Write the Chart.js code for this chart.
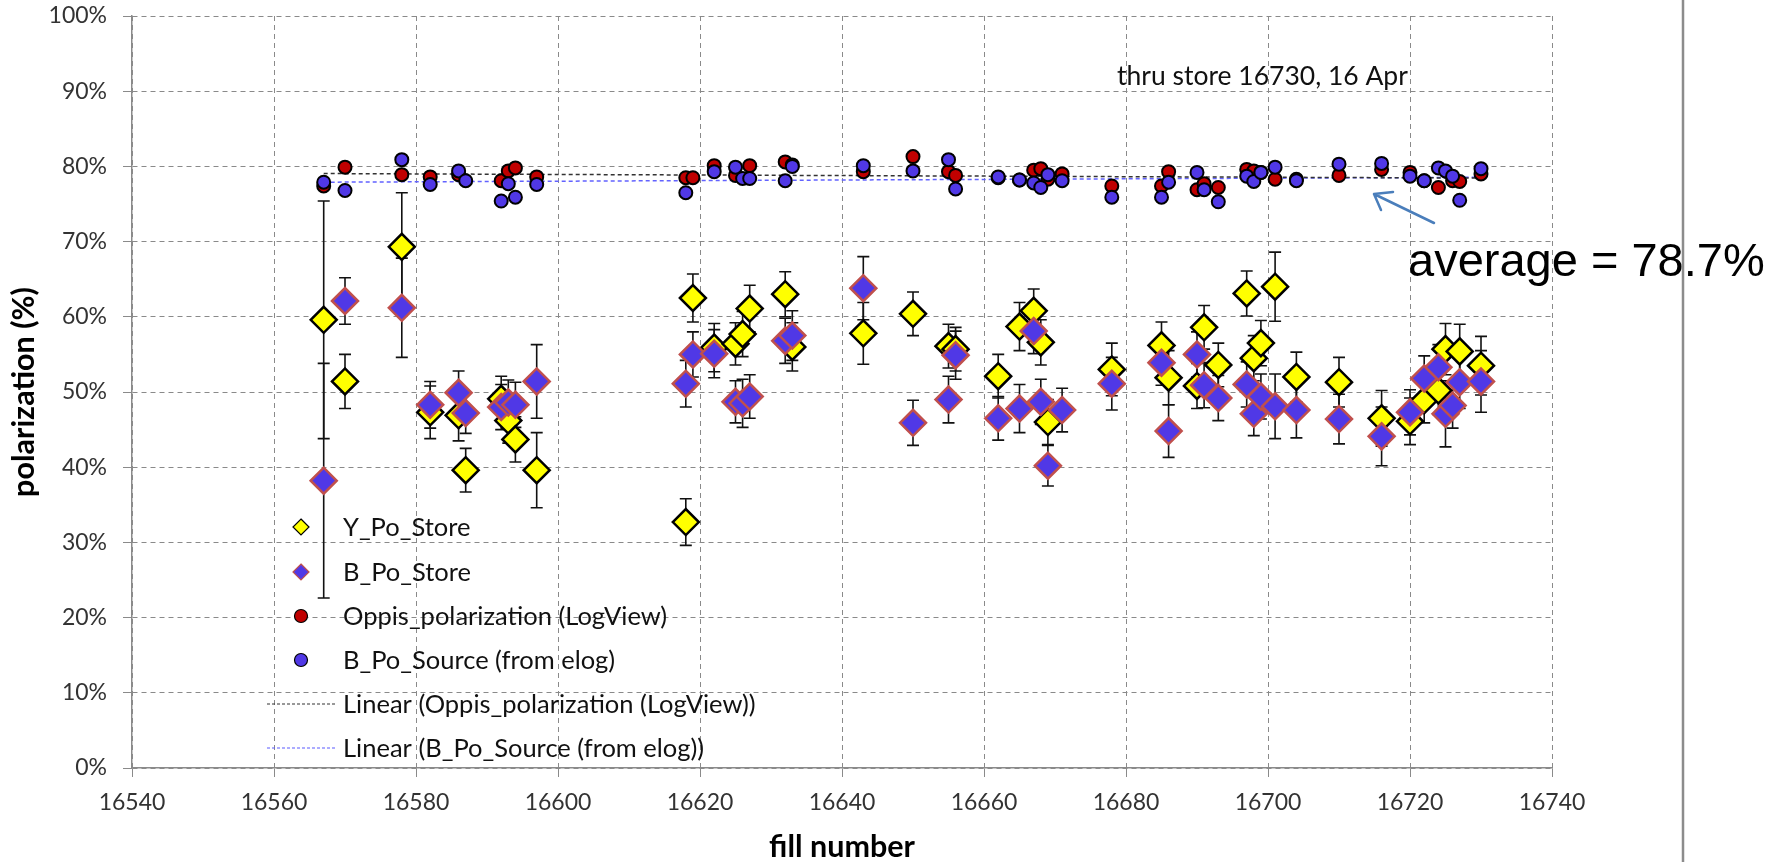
<!DOCTYPE html>
<html>
<head>
<meta charset="utf-8">
<script src="https://cdn.jsdelivr.net/npm/chart.js@4.4.1/dist/chart.umd.min.js"></script>
<style>
  html, body { margin: 0; padding: 0; background: #fff; }
  #wrap { position: relative; width: 1785px; height: 862px; }
</style>
</head>
<body>
<div id="wrap"><canvas id="polChart" width="1785" height="862"></canvas></div>
<script>
// Y_Po_Store (yellow diamonds) with error bars
const yFill = [16567, 16570, 16578, 16582, 16586, 16587, 16592, 16593, 16594, 16597,
  16618, 16619, 16622, 16625, 16626, 16627, 16632, 16633, 16643, 16650,
  16655, 16656, 16662, 16665, 16667, 16668, 16669, 16678, 16685, 16686,
  16690, 16691, 16693, 16697, 16698, 16699, 16701, 16704, 16710, 16716,
  16720, 16722, 16724, 16725, 16727, 16730];
const yPol = [59.6, 51.4, 69.3, 47.3, 46.9, 39.6, 49.1, 46.2, 43.7, 39.6,
  32.7, 62.5, 55.9, 56.4, 57.7, 61.1, 63.0, 56.0, 57.8, 60.4,
  56.1, 55.7, 52.1, 58.7, 60.8, 56.6, 46.0, 53.0, 56.2, 51.9,
  50.8, 58.6, 53.6, 63.1, 54.5, 56.5, 64.0, 52.0, 51.3, 46.5,
  46.1, 48.9, 50.2, 55.7, 55.4, 53.5];
const yErr = [15.8, 3.6, 7.2, 3.5, 3.4, 2.9, 3.0, 3.0, 3.0, 5.0,
  3.1, 3.2, 3.2, 2.8, 3.0, 3.1, 3.0, 3.2, 4.1, 2.9,
  2.9, 2.9, 2.9, 3.2, 2.9, 3.0, 3.0, 3.5, 3.1, 3.6,
  3.0, 2.9, 2.9, 3.0, 3.0, 3.0, 4.6, 3.3, 3.3, 3.7,
  3.1, 3.0, 3.2, 3.4, 3.6, 3.9];

// B_Po_Store (blue diamonds) with error bars
const bFill = [16567, 16570, 16578, 16582, 16586, 16587, 16592, 16593, 16594, 16597,
  16618, 16619, 16622, 16625, 16626, 16627, 16632, 16633, 16643, 16650,
  16655, 16656, 16662, 16665, 16667, 16668, 16669, 16671, 16678, 16685,
  16686, 16690, 16691, 16693, 16697, 16698, 16699, 16701, 16704, 16710,
  16716, 16720, 16722, 16724, 16725, 16726, 16727, 16730];
const bPol = [38.2, 62.1, 61.2, 48.3, 49.9, 47.2, 48.0, 48.6, 48.3, 51.4,
  51.1, 55.0, 55.1, 48.7, 48.5, 49.4, 56.8, 57.5, 63.8, 45.9,
  49.0, 54.9, 46.5, 47.8, 58.1, 48.7, 40.2, 47.6, 51.1, 53.9,
  44.8, 55.0, 50.9, 49.2, 51.0, 47.1, 49.4, 48.1, 47.6, 46.4,
  44.1, 47.3, 51.8, 53.3, 47.1, 48.2, 51.3, 51.4];
const bErr = [15.6, 3.1, 6.6, 3.1, 2.9, 2.7, 3.0, 3.0, 3.0, 4.9,
  3.1, 3.0, 3.2, 2.8, 3.2, 2.9, 3.0, 3.3, 4.2, 3.0,
  3.1, 3.2, 2.9, 3.2, 3.0, 3.0, 2.7, 2.9, 3.5, 3.0,
  3.5, 3.0, 3.0, 3.0, 3.0, 2.9, 3.0, 4.3, 3.7, 3.3,
  3.9, 3.0, 3.0, 3.0, 4.4, 3.0, 3.5, 4.1];

// Oppis_polarization (LogView), red circles
const oFill = [16567, 16570, 16578, 16582, 16586, 16592, 16593, 16594, 16597, 16618,
  16619, 16622, 16625, 16627, 16632, 16633, 16643, 16650, 16655, 16656,
  16662, 16665, 16667, 16668, 16669, 16671, 16678, 16685, 16686, 16690,
  16691, 16693, 16697, 16698, 16699, 16701, 16704, 16710, 16716, 16720,
  16722, 16724, 16726, 16727, 16730];
const oPol = [77.4, 79.9, 78.9, 78.6, 78.9, 78.1, 79.4, 79.8, 78.6, 78.5,
  78.5, 80.1, 78.8, 80.1, 80.6, 80.2, 79.3, 81.3, 79.3, 78.8,
  78.5, 78.2, 79.5, 79.7, 78.3, 79.0, 77.4, 77.4, 79.3, 76.9,
  77.7, 77.2, 79.6, 79.4, 79.2, 78.3, 78.3, 78.8, 79.6, 79.2,
  78.1, 77.2, 78.1, 78.0, 79.0];

// B_Po_Source (from elog), blue circles
const sFill = [16567, 16570, 16578, 16582, 16586, 16587, 16592, 16593, 16594, 16597,
  16618, 16622, 16625, 16626, 16627, 16632, 16633, 16643, 16650, 16655,
  16656, 16662, 16665, 16667, 16668, 16669, 16671, 16678, 16685, 16686,
  16690, 16691, 16693, 16697, 16698, 16699, 16701, 16704, 16710, 16716,
  16720, 16722, 16724, 16725, 16726, 16727, 16730];
const sPol = [77.9, 76.8, 80.9, 77.6, 79.4, 78.1, 75.4, 77.7, 75.9, 77.6,
  76.5, 79.3, 79.9, 78.4, 78.4, 78.1, 80.0, 80.1, 79.4, 80.9,
  77.0, 78.6, 78.2, 77.8, 77.2, 78.9, 78.1, 75.9, 75.9, 77.9,
  79.2, 76.9, 75.3, 78.7, 78.0, 79.2, 79.9, 78.1, 80.3, 80.4,
  78.7, 78.1, 79.8, 79.4, 78.7, 75.5, 79.7];

// linear trend lines, end points
const trendFill = [16567, 16730];
const oTrend = [79.05, 78.45];
const sTrend = [77.9, 78.55];

const xTicks = { min: 16540, max: 16740, step: 20 };
const yTicks = { min: 0, max: 100, step: 10 };

const legendItems = [
  "Y_Po_Store",
  "B_Po_Store",
  "Oppis_polarization (LogView)",
  "B_Po_Source (from elog)",
  "Linear (Oppis_polarization (LogView))",
  "Linear (B_Po_Source (from elog))"
];

const YELLOW = "#ffff00";
const BLUE = "#5038e6";
const RED = "#c00000";
const SALMON = "#c0504d";

function pts(xs, ys) {
  return xs.map((x, i) => ({ x: x, y: ys[i] }));
}

const errorBarPlugin = {
  id: "errorBars",
  beforeDatasetsDraw(chart) {
    const ctx = chart.ctx;
    const xs = chart.scales.x, ys = chart.scales.y;
    ctx.save();
    ctx.strokeStyle = "#111";
    ctx.lineWidth = 1.6;
    chart.data.datasets.forEach(ds => {
      if (!ds.errorBars) return;
      ds.data.forEach((p, i) => {
        const e = ds.errorBars[i];
        const px = xs.getPixelForValue(p.x);
        const top = ys.getPixelForValue(p.y + e);
        const bot = ys.getPixelForValue(p.y - e);
        ctx.beginPath();
        ctx.moveTo(px, top); ctx.lineTo(px, bot);
        ctx.moveTo(px - 6, top); ctx.lineTo(px + 6, top);
        ctx.moveTo(px - 6, bot); ctx.lineTo(px + 6, bot);
        ctx.stroke();
      });
    });
    ctx.restore();
  }
};

const overlayPlugin = {
  id: "overlay",
  afterDraw(chart) {
    const ctx = chart.ctx;
    ctx.save();

    // legend inside the plot
    const rows = [527, 572, 616, 660, 704, 748];
    const mx = 301, tx = 343;
    ctx.font = "25.5px Lato";
    ctx.fillStyle = "#111";
    ctx.textBaseline = "middle";
    legendItems.forEach((t, i) => ctx.fillText(t, tx, rows[i] + 1));

    const diamond = (y, fill, stroke) => {
      ctx.beginPath();
      ctx.moveTo(mx, y - 8); ctx.lineTo(mx + 8, y); ctx.lineTo(mx, y + 8); ctx.lineTo(mx - 8, y);
      ctx.closePath();
      ctx.fillStyle = fill; ctx.fill();
      ctx.strokeStyle = stroke; ctx.lineWidth = 1.2; ctx.stroke();
    };
    const circle = (y, fill) => {
      ctx.beginPath();
      ctx.arc(mx, y, 6.5, 0, Math.PI * 2);
      ctx.fillStyle = fill; ctx.fill();
      ctx.strokeStyle = "#000"; ctx.lineWidth = 1.2; ctx.stroke();
    };
    diamond(rows[0], YELLOW, "#000");
    diamond(rows[1], BLUE, SALMON);
    circle(rows[2], RED);
    circle(rows[3], BLUE);
    ctx.setLineDash([3, 2]);
    ctx.lineWidth = 1.2;
    ctx.strokeStyle = "#333";
    ctx.beginPath(); ctx.moveTo(267, rows[4]); ctx.lineTo(335, rows[4]); ctx.stroke();
    ctx.strokeStyle = "#5a5aff";
    ctx.beginPath(); ctx.moveTo(267, rows[5]); ctx.lineTo(335, rows[5]); ctx.stroke();
    ctx.setLineDash([]);

    // annotations
    ctx.fillStyle = "#111";
    ctx.textBaseline = "alphabetic";
    ctx.font = "26.5px Lato";
    ctx.fillText("thru store 16730, 16 Apr", 1117, 85);

    ctx.fillStyle = "#000";
    ctx.font = "47px 'Liberation Sans', Arial, sans-serif";
    ctx.fillText("average = 78.7%", 1408, 276);

    // arrow pointing at the trend lines
    ctx.strokeStyle = "#4a7ebb";
    ctx.lineWidth = 2.5;
    ctx.lineCap = "round";
    ctx.beginPath();
    ctx.moveTo(1434, 223); ctx.lineTo(1374, 194);
    ctx.moveTo(1374, 194); ctx.lineTo(1393, 192);
    ctx.moveTo(1374, 194); ctx.lineTo(1381, 210);
    ctx.stroke();

    // slide border on the right
    ctx.strokeStyle = "#8c8c8c";
    ctx.lineWidth = 2.5;
    ctx.beginPath(); ctx.moveTo(1683, 0); ctx.lineTo(1683, 862); ctx.stroke();

    ctx.restore();
  }
};

const tickFont = { family: "Lato", size: 23 };
const titleFont = { family: "Lato", size: 30.5, weight: "bold", lineHeight: 1 };

new Chart(document.getElementById("polChart").getContext("2d"), {
  type: "scatter",
  data: {
    datasets: [
      {
        label: "B_Po_Store",
        data: pts(bFill, bPol),
        errorBars: bErr,
        pointStyle: "rectRot",
        pointRadius: 13,
        backgroundColor: BLUE,
        borderColor: SALMON,
        borderWidth: 2.5,
        order: 1,
      },
      {
        label: "Y_Po_Store",
        data: pts(yFill, yPol),
        errorBars: yErr,
        pointStyle: "rectRot",
        pointRadius: 13,
        backgroundColor: YELLOW,
        borderColor: "#000",
        borderWidth: 2.5,
        order: 2,
      },
      {
        label: "B_Po_Source (from elog)",
        data: pts(sFill, sPol),
        pointStyle: "circle",
        pointRadius: 6.5,
        backgroundColor: BLUE,
        borderColor: "#000",
        borderWidth: 2,
        order: 3,
      },
      {
        label: "Oppis_polarization (LogView)",
        data: pts(oFill, oPol),
        pointStyle: "circle",
        pointRadius: 6.5,
        backgroundColor: RED,
        borderColor: "#000",
        borderWidth: 2,
        order: 4,
      },
      {
        label: "Linear (Oppis_polarization (LogView))",
        data: pts(trendFill, oTrend),
        showLine: true,
        pointRadius: 0,
        borderColor: "#333",
        borderWidth: 1.5,
        borderDash: [4, 3],
        order: 5,
      },
      {
        label: "Linear (B_Po_Source (from elog))",
        data: pts(trendFill, sTrend),
        showLine: true,
        pointRadius: 0,
        borderColor: "#6262ff",
        borderWidth: 1.5,
        borderDash: [4, 3],
        order: 6,
      },
    ],
  },
  options: {
    responsive: false,
    animation: false,
    events: [],
    layout: { padding: { top: 16, right: 233, left: 0, bottom: 0 } },
    plugins: { legend: { display: false }, tooltip: { enabled: false } },
    scales: {
      x: {
        type: "linear",
        min: xTicks.min,
        max: xTicks.max,
        afterFit: s => { s.height = 94; s.paddingLeft = 0; s.paddingRight = 0; },
        ticks: { stepSize: xTicks.step, font: tickFont, color: "#333", padding: 12, callback: v => String(v), maxRotation: 0 },
        grid: { color: "#8a8a8a", lineWidth: 1, tickLength: 9, tickColor: "#8a8a8a", tickWidth: 1 },
        border: { display: true, color: "#8a8a8a", width: 1.5, dash: [5, 4] },
        title: { display: true, text: "fill number", font: titleFont, color: "#000", padding: 0 },
      },
      y: {
        min: yTicks.min,
        max: yTicks.max,
        afterFit: s => { s.width = 132; s.paddingTop = 0; s.paddingBottom = 0; },
        ticks: { stepSize: yTicks.step, font: tickFont, color: "#333", padding: 16, callback: v => v + "%" },
        grid: { color: "#8a8a8a", lineWidth: 1, tickLength: 9, tickColor: "#8a8a8a", tickWidth: 1 },
        border: { display: true, color: "#8a8a8a", width: 1.5, dash: [5, 4] },
        title: { display: true, text: "polarization (%)", font: titleFont, color: "#000", padding: { top: 9 } },
      },
    },
  },
  plugins: [errorBarPlugin, overlayPlugin],
});
</script>
</body>
</html>
